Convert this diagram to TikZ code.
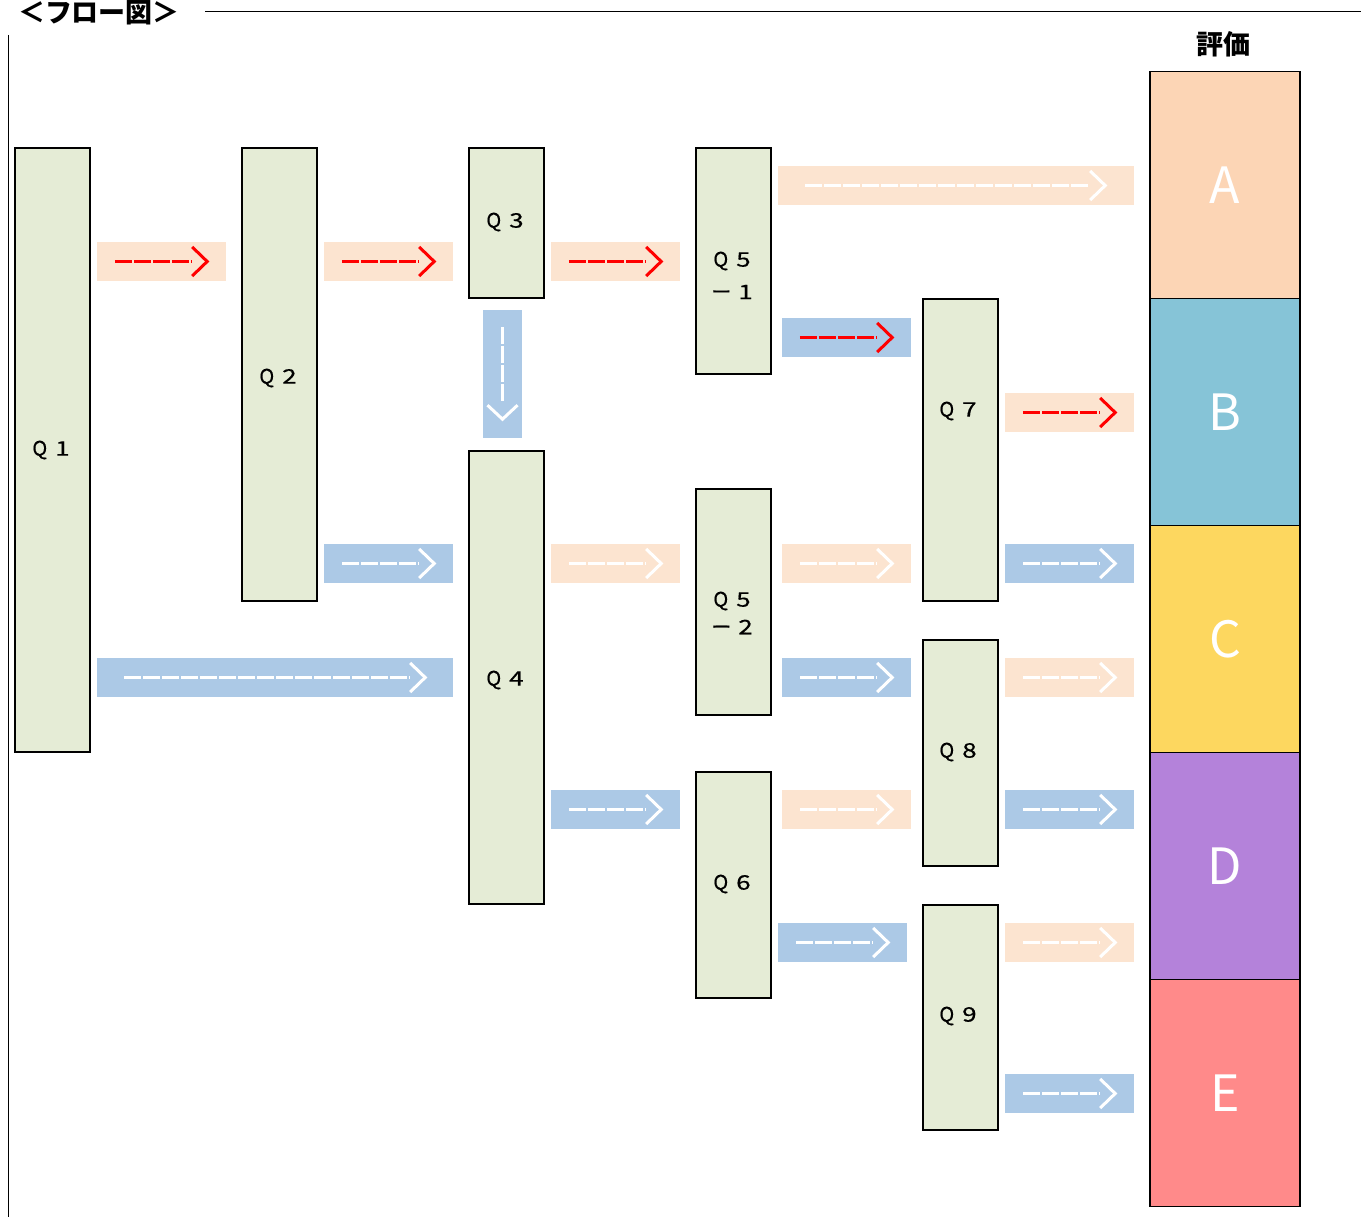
\documentclass[tikz,border=0pt]{standalone}
\usepackage{graphicx}
\usepackage{fontspec}
\setmainfont{Noto Sans CJK JP}
\newfontfamily\qfont{Noto Sans CJK JP}[FakeBold=0.5]
\definecolor{qfill}{HTML}{E5ECD6}
\definecolor{pbg}{HTML}{FCE4D0}
\definecolor{bbg}{HTML}{ACC9E6}
\definecolor{colA}{HTML}{FCD5B5}
\definecolor{colB}{HTML}{86C4D7}
\definecolor{colC}{HTML}{FDD75F}
\definecolor{colD}{HTML}{B482DA}
\definecolor{colE}{HTML}{FF8A8A}
\definecolor{arrred}{HTML}{FF0000}
\newcommand\qdig[1]{\scalebox{1.3}[1]{#1}}
\newcommand\ql[1]{Q\hspace{8pt}\qdig{#1}}
\newcommand\harr[8]{%
  \node[arrbg, fill=#5, minimum width=#4pt] (#1) at ({#2+#4/2},{#3+19.5}) {};
  \draw[dashline, draw=#6] ([xshift=#7pt]#1.west) -- ([xshift={-(#8+16)*1pt}]#1.east);
  \draw[chev, draw=#6] ([xshift={-(#8+15)*1pt},yshift=14.5pt]#1.east) -- ([xshift={-#8*1pt}]#1.east) -- ([xshift={-(#8+15)*1pt},yshift=-14.5pt]#1.east);
}
\begin{document}
\begin{tikzpicture}[x=1pt,y=-1pt,
  qbox/.style={draw=black, line width=1.1pt, fill=qfill, inner sep=0pt, minimum width=75pt},
  qlab/.style={font=\qfont\fontsize{20}{24}\selectfont, inner sep=0pt, align=center},
  evbox/.style={draw=black, line width=1.1pt, inner sep=0pt, minimum width=150pt, minimum height=227pt,
     text=white, font=\fontsize{50}{60}\selectfont},
  arrbg/.style={inner sep=0pt, minimum height=39pt},
  dashline/.style={line width=3pt, dash pattern=on 17pt off 2pt},
  chev/.style={line width=3pt}]
\useasboundingbox (0,0) rectangle (1361,1217);
% frame
\node[font=\bfseries\fontsize{27}{30}\selectfont, inner sep=0pt] (title) at (99,13) {＜フロー図＞};
\coordinate (hl1) at (205,12);
\coordinate (hl2) at (1361,12);
\draw[line width=1pt] (hl1) -- (hl2);
\coordinate (vl1) at (8,35);
\coordinate (vl2) at (8,1217);
\draw[line width=1pt] (vl1) -- (vl2);
\node[font=\bfseries\fontsize{27}{30}\selectfont, inner sep=0pt] (hyoka) at (1223,44) {評価};
% evaluation column
\node[evbox, fill=colA] (A) at (1225,185) {A};
\node[evbox, fill=colB] (B) at (1225,412) {B};
\node[evbox, fill=colC] (C) at (1225,639) {C};
\node[evbox, fill=colD] (D) at (1225,866) {D};
\node[evbox, fill=colE] (E) at (1225,1093) {E};
% question boxes
\node[qbox, minimum height=604pt] (q1) at (52.5,450) {};
\node[qbox, minimum height=453pt] (q2) at (279.5,374.5) {};
\node[qbox, minimum height=150pt] (q3) at (506.5,223) {};
\node[qbox, minimum height=453pt] (q4) at (506.5,677.5) {};
\node[qbox, minimum height=226pt] (q51) at (733.5,261) {};
\node[qbox, minimum height=226pt] (q52) at (733.5,602) {};
\node[qbox, minimum height=226pt] (q6) at (733.5,885) {};
\node[qbox, minimum height=302pt] (q7) at (960.5,450) {};
\node[qbox, minimum height=226pt] (q8) at (960.5,753) {};
\node[qbox, minimum height=225pt] (q9) at (960.5,1017.5) {};
% labels
\node[qlab] (l1) at (51,450) {\ql{1}};
\node[qlab] (l2) at (278,378) {\ql{2}};
\node[qlab] (l3) at (505,222) {\ql{3}};
\node[qlab] (l4) at (505,680) {\ql{4}};
\node[qlab] (l51a) at (732,261) {\ql{5}};
\node[qlab] (l51b) at (732,292) {ー\hspace{7pt}\qdig{1}};
\node[qlab] (l52a) at (732,601) {\ql{5}};
\node[qlab] (l52b) at (732,627) {ー\hspace{7pt}\qdig{2}};
\node[qlab] (l6) at (732,884) {\ql{6}};
\node[qlab] (l7) at (958,411) {\ql{7}};
\node[qlab] (l8) at (958,752) {\ql{8}};
\node[qlab] (l9) at (958,1016) {\ql{9}};
% arrows
\harr{a1}{97}{242}{129}{pbg}{arrred}{18}{19}
\harr{a2}{324}{242}{129}{pbg}{arrred}{18}{19}
\harr{a3}{551}{242}{129}{pbg}{arrred}{18}{19}
\harr{a4}{778}{166}{356}{pbg}{white}{27}{29}
\harr{a5}{782}{318}{129}{bbg}{arrred}{18}{19}
\harr{a6}{1005}{393}{129}{pbg}{arrred}{18}{19}
\harr{a7}{324}{544}{129}{bbg}{white}{18}{19}
\harr{a8}{551}{544}{129}{pbg}{white}{18}{19}
\harr{a9}{782}{544}{129}{pbg}{white}{18}{19}
\harr{a10}{1005}{544}{129}{bbg}{white}{18}{19}
\harr{a11}{97}{658}{356}{bbg}{white}{27}{28}
\harr{a12}{782}{658}{129}{bbg}{white}{18}{19}
\harr{a13}{1005}{658}{129}{pbg}{white}{18}{19}
\harr{a14}{551}{790}{129}{bbg}{white}{18}{19}
\harr{a15}{782}{790}{129}{pbg}{white}{18}{19}
\harr{a16}{1005}{790}{129}{bbg}{white}{18}{19}
\harr{a17}{778}{923}{129}{bbg}{white}{18}{19}
\harr{a18}{1005}{923}{129}{pbg}{white}{18}{19}
\harr{a19}{1005}{1074}{129}{bbg}{white}{18}{19}
% vertical arrow Q3 -> Q4
\node[inner sep=0pt, fill=bbg, minimum width=39pt, minimum height=128pt] (av) at (502.5,374) {};
\draw[dashline, draw=white] ([yshift=-17pt]av.north) -- ([yshift=36pt]av.south);
\draw[chev, draw=white] ([xshift=-15pt,yshift=33pt]av.south) -- ([yshift=19pt]av.south) -- ([xshift=15pt,yshift=33pt]av.south);
\end{tikzpicture}
\end{document}
